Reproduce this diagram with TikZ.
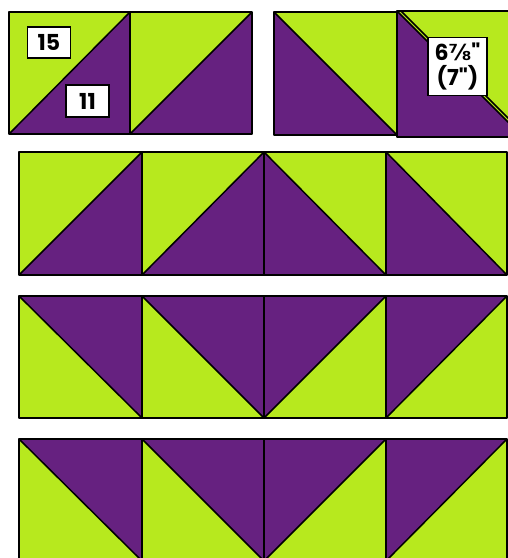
\documentclass[tikz,border=0pt]{standalone}
\usepackage{fontspec}
\newfontfamily\tagfont{Poppins}[UprightFont=* Bold, BoldFont=* Bold]
\newfontfamily\fracfont{DejaVu Sans}[UprightFont=* Bold]
\definecolor{qgreen}{RGB}{183,233,30}
\definecolor{qpurple}{RGB}{102,33,128}
\tikzset{
  edge/.style={draw=black, line width=1.5pt, line join=round},
  tag/.style={draw=black, line width=1.5pt, fill=white, font=\tagfont\fontsize{22}{25}\selectfont, inner sep=0pt, align=center},
}
\newcommand\hstBR[4]{%
  \fill[qgreen] (#1,#2) rectangle ++(#3,#4);
  \fill[qpurple] (#1,#2+#4) -- ++(#3,0) -- (#1+#3,#2) -- cycle;
  \draw[edge] (#1,#2) rectangle ++(#3,#4);
  \draw[edge] (#1,#2+#4) -- (#1+#3,#2);}
\newcommand\hstBL[4]{%
  \fill[qgreen] (#1,#2) rectangle ++(#3,#4);
  \fill[qpurple] (#1,#2) -- (#1,#2+#4) -- (#1+#3,#2+#4) -- cycle;
  \draw[edge] (#1,#2) rectangle ++(#3,#4);
  \draw[edge] (#1,#2) -- (#1+#3,#2+#4);}
\newcommand\hstTR[4]{%
  \fill[qgreen] (#1,#2) rectangle ++(#3,#4);
  \fill[qpurple] (#1,#2) -- (#1+#3,#2) -- (#1+#3,#2+#4) -- cycle;
  \draw[edge] (#1,#2) rectangle ++(#3,#4);
  \draw[edge] (#1,#2) -- (#1+#3,#2+#4);}
\newcommand\hstTL[4]{%
  \fill[qgreen] (#1,#2) rectangle ++(#3,#4);
  \fill[qpurple] (#1,#2) -- (#1+#3,#2) -- (#1,#2+#4) -- cycle;
  \draw[edge] (#1,#2) rectangle ++(#3,#4);
  \draw[edge] (#1,#2+#4) -- (#1+#3,#2);}
\begin{document}
\begin{tikzpicture}[x=1pt,y=-1pt]
\useasboundingbox (0,0) rectangle (508,558);
\clip (0,0) rectangle (508,558);
\fill[white] (0,0) rectangle (508,558);
% top row
\hstBR{9}{12}{121}{122}
\hstBR{130}{12}{122}{122}
\hstBL{274}{12}{123}{123}
% fourth square with doubled diagonal
\fill[qgreen] (397,11) rectangle (523,137);
\fill[qpurple] (397,11) -- (397,137) -- (523,137) -- cycle;
\begin{scope}
  \clip (397,11) rectangle (523,137);
  \draw[edge] (401,11) -- (527,137);
\end{scope}
\draw[edge] (397,11) rectangle (523,137);
\draw[edge] (397,11) -- (523,137);
% row 2
\hstBR{19}{152}{123}{123}
\hstBR{142}{152}{122}{123}
\hstBL{264}{152}{122}{123}
\hstBL{386}{152}{121}{123}
% row 3
\hstTR{19}{296}{123}{122}
\hstTR{142}{296}{122}{122}
\hstTL{264}{296}{122}{122}
\hstTL{386}{296}{121}{122}
% row 4
\hstTR{19}{439}{123}{122}
\hstTR{142}{439}{122}{122}
\hstTL{264}{439}{122}{122}
\hstTL{386}{439}{121}{122}
% labels
\node[tag, minimum width=43pt, minimum height=31pt] (l15) at (49,42.5) {15};
\node[tag, minimum width=43pt, minimum height=32pt] (l11) at (87.5,101) {11};
\node[tag, minimum width=59pt, minimum height=58pt] (lsize) at (457.5,66.5) {6{\fracfont ⅞}"\\(7")};
\end{tikzpicture}
\end{document}
